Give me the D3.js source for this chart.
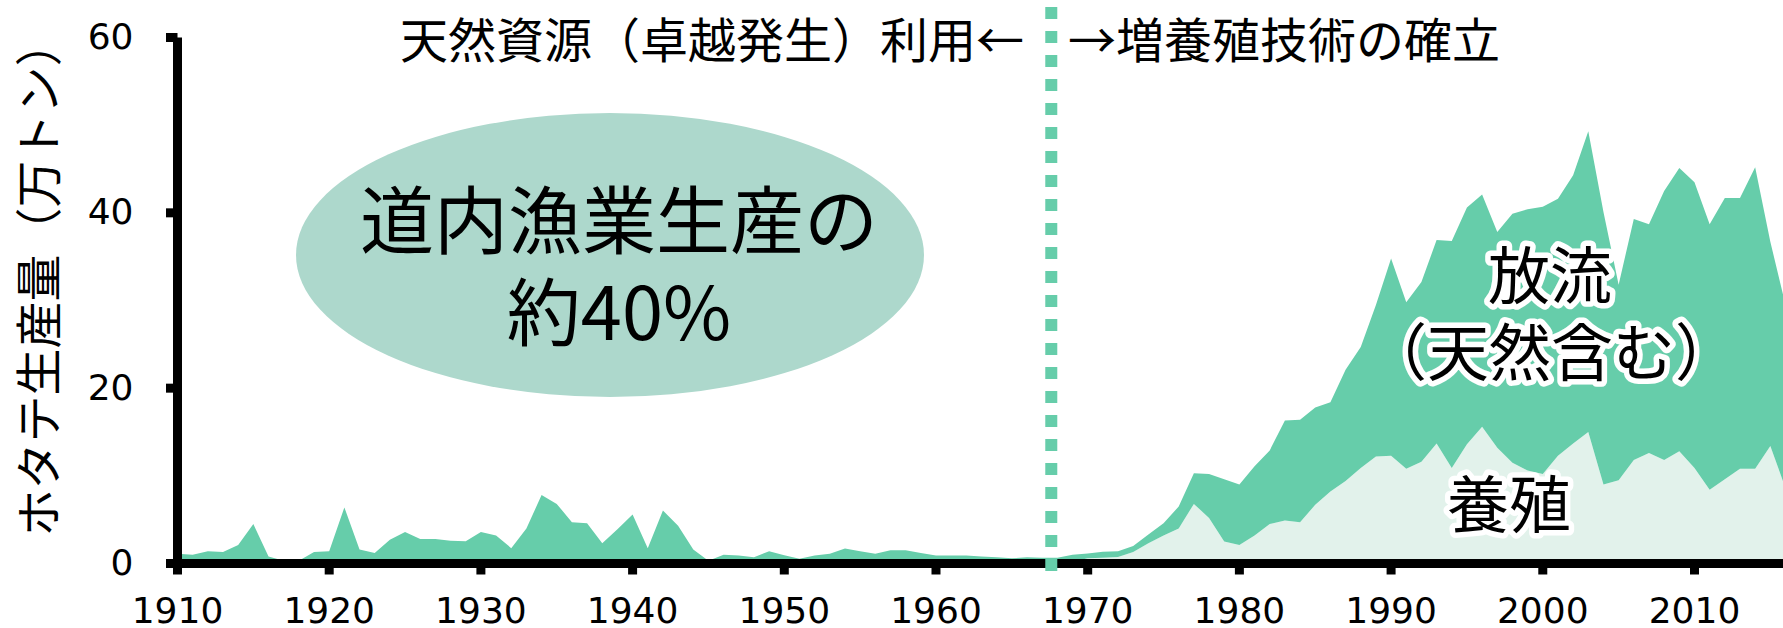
<!DOCTYPE html>
<html>
<head>
<meta charset="utf-8">
<script src="https://cdn.jsdelivr.net/npm/d3@7"></script>
<style>
  html, body { margin: 0; padding: 0; background: #fff; }
  svg { display: block; }
</style>
</head>
<body>
<svg id="chart" width="1783" height="628"></svg>
<script>
// Hokkaido scallop production (10,000 t), 1910–2016
const years = d3.range(1910, 2017);

// total production (aquaculture + release/wild), per year
const total = [
  1.1, 1.0, 1.4, 1.3, 2.1, 4.5, 0.8, 0.3, 0.3, 1.3,      // 1910s
  1.4, 6.4, 1.6, 1.2, 2.7, 3.6, 2.8, 2.8, 2.6, 2.55,     // 1920s
  3.6, 3.2, 1.75, 4.0, 7.8, 6.8, 4.7, 4.6, 2.3, 3.9,     // 1930s
  5.6, 1.75, 6.05, 4.3, 1.6, 0.3, 1.0, 0.9, 0.7, 1.4,    // 1940s
  0.95, 0.55, 0.9, 1.1, 1.7, 1.4, 1.1, 1.5, 1.5, 1.2,    // 1950s
  0.9, 0.9, 0.9, 0.8, 0.7, 0.6, 0.7, 0.65, 0.65, 1.0,    // 1960s
  1.15, 1.35, 1.4, 2.0, 3.3, 4.6, 6.5, 10.3, 10.2, 9.6,  // 1970s
  9.0, 11.1, 12.9, 16.3, 16.4, 17.8, 18.4, 22.1, 24.7, 29.5,   // 1980s
  34.8, 29.8, 32.1, 36.9, 36.8, 40.6, 42.1, 37.8, 39.9, 40.4,  // 1990s
  40.7, 41.6, 44.3, 49.3, 40.1, 31.8, 39.3, 38.7, 42.5, 45.1,  // 2000s
  43.5, 38.7, 41.7, 41.7, 45.2, 36.7, 29.5                     // 2010s
];

// aquaculture (養殖) share, per year
const aquaculture = [
  0, 0, 0, 0, 0, 0, 0, 0, 0, 0,
  0, 0, 0, 0, 0, 0, 0, 0, 0, 0,
  0, 0, 0, 0, 0, 0, 0, 0, 0, 0,
  0, 0, 0, 0, 0, 0, 0, 0, 0, 0,
  0, 0, 0, 0, 0, 0, 0, 0, 0, 0,
  0, 0, 0, 0, 0, 0, 0, 0, 0, 0.2,
  0.6, 0.65, 0.75, 1.3, 2.3, 3.2, 4.0, 6.8, 5.2, 2.5,
  2.1, 3.2, 4.5, 4.9, 4.7, 6.7, 8.2, 9.4, 10.9, 12.2,
  12.3, 10.8, 11.6, 13.7, 10.9, 13.6, 15.6, 13.2, 11.5, 10.6,
  10.2, 12.3, 13.7, 15.0, 9.0, 9.5, 11.8, 12.6, 11.8, 12.8,
  10.9, 8.4, 9.6, 10.8, 10.8, 13.4, 8.6
];

const xTicks = [1910, 1920, 1930, 1940, 1950, 1960, 1970, 1980, 1990, 2000, 2010];
const yTicks = [0, 20, 40, 60];
const techYear = 1967.6;   // breeding technology established

const GREEN = "#66CDAA";
const LIGHT = "#E2F2EB";
const OVAL  = "#ADD8CC";
const JP = "'Noto Sans CJK JP', 'Noto Sans', sans-serif";
const NUM = "'DejaVu Sans', Verdana, sans-serif";

const svg = d3.select("#chart");

const x = d3.scaleLinear().domain([1910, 2016]).range([177.5, 1785.5]);
const y = d3.scaleLinear().domain([0, 60]).range([563.5, 37.5]);

const idx = d3.range(years.length);

// callout oval
svg.append("ellipse")
  .attr("cx", 610).attr("cy", 255).attr("rx", 314).attr("ry", 142)
  .attr("fill", OVAL);

const oval = svg.append("g")
  .attr("font-family", JP).attr("font-size", 74).attr("text-anchor", "middle").attr("fill", "#000");
oval.append("text").attr("x", 619).attr("y", 248).text("道内漁業生産の");
oval.append("text").attr("x", 619).attr("y", 340).text("約40%");

// stacked areas: aquaculture at the bottom, release on top
svg.append("path").datum(idx)
  .attr("fill", LIGHT)
  .attr("d", d3.area()
    .x(i => x(years[i]))
    .y0(y(0))
    .y1(i => y(aquaculture[i])));

svg.append("path").datum(idx)
  .attr("fill", GREEN)
  .attr("d", d3.area()
    .x(i => x(years[i]))
    .y0(i => y(aquaculture[i]))
    .y1(i => y(total[i])));

// axes
const yAxis = d3.axisLeft(y).tickValues(yTicks).tickSize(11.5).tickSizeOuter(0)
  .tickPadding(32.5).tickFormat(d3.format("d")).offset(0);
const xAxis = d3.axisBottom(x).tickValues(xTicks).tickSize(11).tickSizeOuter(0)
  .tickPadding(23).tickFormat(d3.format("d")).offset(0);

function styleAxis(g) {
  g.attr("font-family", NUM).attr("font-size", 36);
  g.select(".domain").attr("stroke", "#000").attr("stroke-width", 9).attr("stroke-linecap", "square");
  g.selectAll(".tick line").attr("stroke", "#000").attr("stroke-width", 9);
  g.selectAll(".tick text").attr("fill", "#000");
}

svg.append("g").attr("transform", `translate(${x(1910)},0)`).call(yAxis).call(styleAxis)
  .select(".domain").attr("stroke-linecap", "butt");
svg.append("g").attr("transform", `translate(0,${y(0)})`).call(xAxis).call(styleAxis);

// dotted divider between the two eras
svg.append("line")
  .attr("x1", x(techYear)).attr("x2", x(techYear))
  .attr("y1", 7).attr("y2", 571)
  .attr("stroke", GREEN).attr("stroke-width", 12).attr("stroke-dasharray", "12 12");

// era captions
const captions = svg.append("g").attr("font-family", JP).attr("font-size", 48).attr("fill", "#000");
captions.append("text").attr("x", 1024).attr("y", 58).attr("text-anchor", "end")
  .text("天然資源（卓越発生）利用←");
captions.append("text").attr("x", 1068).attr("y", 58).attr("text-anchor", "start")
  .text("→増養殖技術の確立");

// y axis title
svg.append("text")
  .attr("transform", "translate(56,278) rotate(-90)")
  .attr("text-anchor", "middle")
  .attr("font-family", JP).attr("font-size", 47).attr("fill", "#000")
  .text("ホタテ生産量（万トン）");

// series labels with white halo
const labels = svg.append("g")
  .attr("font-family", JP).attr("font-size", 62).attr("text-anchor", "middle")
  .attr("fill", "#000").attr("stroke", "#fff").attr("stroke-width", 11)
  .attr("stroke-linejoin", "round").attr("paint-order", "stroke");
labels.append("text").attr("x", 1550).attr("y", 299).text("放流");
labels.append("text").attr("x", 1551).attr("y", 376).text("（天然含む）");
labels.append("text").attr("x", 1509).attr("y", 528).text("養殖");
</script>
</body>
</html>
